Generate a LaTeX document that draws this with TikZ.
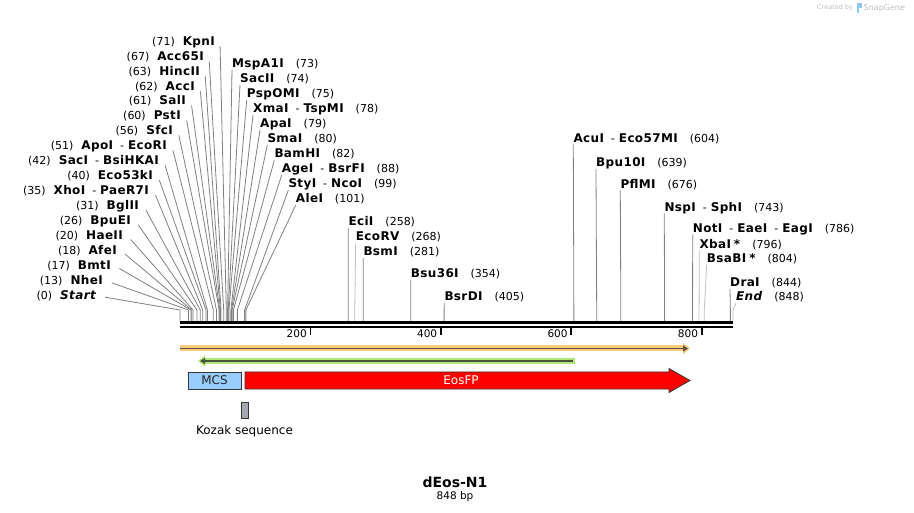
\documentclass[tikz,border=0pt]{standalone}
\usepackage{fontspec}
\setmainfont{DejaVu Sans}
\usetikzlibrary{arrows.meta,positioning,calc}

\definecolor{sitegray}{RGB}{128,128,128}
\definecolor{sitefaint}{RGB}{192,192,192}
\definecolor{orangehalo}{RGB}{250,202,125}
\definecolor{orangecore}{RGB}{95,80,65}
\definecolor{greenhalo}{RGB}{178,232,122}
\definecolor{greencore}{RGB}{70,85,60}
\definecolor{mcsblue}{RGB}{153,204,255}
\definecolor{eosred}{RGB}{255,0,0}
\definecolor{kozakgray}{RGB}{165,168,176}
\definecolor{featedge}{RGB}{55,55,55}
\definecolor{brandgray}{RGB}{190,190,190}
\definecolor{brandblue}{RGB}{140,200,240}

\newcommand{\enz}[1]{{\fontsize{12}{14}\selectfont\bfseries\addfontfeatures{LetterSpace=3}#1}}
\newcommand{\cutpos}[1]{{\fontsize{11}{13}\selectfont(#1)}}
\newcommand{\also}{{\fontsize{11}{13}\selectfont\hspace{7pt}-\hspace{4pt}}}

\begin{document}
\begin{tikzpicture}[x=1pt, y=-1pt,
  every node/.style={inner sep=0pt},
  sitelbl/.style={inner sep=0pt, text height=9pt, text depth=2pt},
  leftlbl/.style={sitelbl, anchor=base east, inner xsep=5pt},
  rightlbl/.style={sitelbl, anchor=base west},
  siteline/.style={line width=0.8pt},
  rulerline/.style={line width=2.7pt, line cap=butt},
  halo/.style={line width=6pt, line cap=butt},
  core/.style={line width=1.8pt, line cap=butt}]
  \useasboundingbox (0,0) rectangle (914,513);

  % sequence ruler
  \coordinate (seq0) at (180,322.3);
  \coordinate (seqN) at (733,322.3);
  \coordinate (rtop) at (180,321);
  \draw[rulerline] (seq0) -- (seqN);
  \draw[rulerline] ($(seq0)+(0,4.7)$) -- ($(seqN)+(0,4.7)$);
  \foreach \bp in {200,400,600,800}{
    \coordinate (k\bp) at ({180+0.6521*\bp},328.3);
    \draw[line width=1.8pt] (k\bp) -- ++(0,6.7);
    \node[anchor=base east, font=\fontsize{10.5}{12}\selectfont] (n\bp) at ($(k\bp)+(-3.5,9.2)$) {\bp};
  }

  % sites left of the fan
  \foreach \pos/\txt/\ly/\rx in {
      71/{\enz{KpnI}}/42/220,
      67/{\enz{Acc65I}}/57/209,
      63/{\enz{HincII}}/72/205,
      62/{\enz{AccI}}/87/200,
      61/{\enz{SalI}}/101/191,
      60/{\enz{PstI}}/116/186,
      56/{\enz{SfcI}}/131/178,
      51/{\enz{ApoI}\also\enz{EcoRI}}/146/172,
      42/{\enz{SacI}\also\enz{BsiHKAI}}/161/164,
      40/{\enz{Eco53kI}}/176/158,
      35/{\enz{XhoI}\also\enz{PaeR7I}}/191/154,
      31/{\enz{BglII}}/206/144,
      26/{\enz{BpuEI}}/221/136,
      20/{\enz{HaeII}}/236/128,
      18/{\enz{AfeI}}/251/122,
      17/{\enz{BmtI}}/266/116,
      13/{\enz{NheI}}/281/108,
      0/{\enz{\itshape Start}}/296/101}{
    \coordinate (t\pos) at ({180+0.6521*\pos},310);
    \node[leftlbl] (s\pos) at (\rx,\ly+4) {\cutpos{\pos}\hspace{8pt}\txt};
    \draw[siteline, draw=sitegray] ($(s\pos.east)!4pt!(t\pos)$) -- (t\pos) -- (t\pos |- rtop);
  }

  % sites right of the fan and further along
  \foreach \pos/\txt/\ly/\lx/\col in {
      73/{\enz{MspA1I}}/64/232/sitegray,
      74/{\enz{SacII}}/79/240/sitegray,
      75/{\enz{PspOMI}}/94/246.7/sitegray,
      78/{\enz{XmaI}\also\enz{TspMI}}/109/253/sitegray,
      79/{\enz{ApaI}}/124/260/sitegray,
      80/{\enz{SmaI}}/139/267.3/sitegray,
      82/{\enz{BamHI}}/154/274.3/sitegray,
      88/{\enz{AgeI}\also\enz{BsrFI}}/169/281.7/sitegray,
      99/{\enz{StyI}\also\enz{NcoI}}/184/288.3/sitegray,
      101/{\enz{AleI}}/199/295.7/sitegray,
      258/{\enz{EciI}}/221.7/348.3/sitegray,
      268/{\enz{EcoRV}}/236.7/355.7/sitefaint,
      281/{\enz{BsmI}}/251.7/363.3/sitegray,
      354/{\enz{Bsu36I}}/274/410.7/sitegray,
      405/{\enz{BsrDI}}/296.7/444.3/sitegray,
      604/{\enz{AcuI}\also\enz{Eco57MI}}/138.3/573.3/sitegray,
      639/{\enz{Bpu10I}}/162.7/596/sitegray,
      676/{\enz{PflMI}}/184.3/620.3/sitegray,
      743/{\enz{NspI}\also\enz{SphI}}/207.3/664.3/sitegray,
      786/{\enz{NotI}\also\enz{EaeI}\also\enz{EagI}}/228.3/692.7/sitegray,
      796/{\enz{XbaI\hspace{3pt}*}}/244.3/699.3/sitefaint,
      804/{\enz{BsaBI\hspace{3pt}*}}/258.3/706.7/sitefaint,
      844/{\enz{DraI}}/282.7/730/sitegray,
      848/{\enz{\itshape End}}/296.7/736/sitefaint}{
    \coordinate (t\pos) at ({180+0.6521*\pos},310);
    \node[rightlbl] (s\pos) at (\lx,\ly+4) {\txt\hspace{12pt}\cutpos{\pos}};
    \draw[siteline, draw=\col] (s\pos.south west) -- (t\pos) -- (t\pos |- rtop);
  }

  % primer-like feature arrows
  \coordinate (fwdL) at (180,348.5);
  \coordinate (fwdR) at (690,348.5);
  \draw[halo, draw=orangehalo, -{Triangle[length=7pt,width=11pt]}] (fwdL) -- (fwdR);
  \draw[core, draw=orangecore, -{Triangle[length=5pt,width=6pt]}] (fwdL) -- ($(fwdR)+(-2,0)$);
  \coordinate (revR) at (575,361);
  \coordinate (revL) at (198,361);
  \draw[halo, draw=greenhalo, -{Triangle[length=7pt,width=11pt]}] (revR) -- (revL);
  \draw[core, draw=greencore, -{Triangle[length=5pt,width=6pt]}] ($(revR)+(-2,0)$) -- ($(revL)+(2,0)$);

  % features
  \node[draw=featedge, fill=mcsblue, line width=0.8pt, minimum width=53pt, minimum height=17pt,
        font=\fontsize{12}{14}\selectfont, text=black!85] (mcs) at (214.5,380.5) {MCS};
  \filldraw[fill=eosred, draw=featedge, line width=0.8pt]
    (245,372) -- (669,372) -- (669,368.5) -- (690,380.5) -- (669,392.5) -- (669,389) -- (245,389) -- cycle;
  \node[text=white, font=\fontsize{12}{14}\selectfont] (eos) at (461,380.5) {EosFP};
  \node[draw=featedge, fill=kozakgray, line width=0.8pt, minimum width=7pt, minimum height=16pt] (kozak) at (244.5,410) {};
  \node[font=\fontsize{12}{14}\selectfont, below=7pt of kozak] (kozaklbl) {Kozak sequence};

  % map name
  \node[font=\fontsize{14}{16}\selectfont\bfseries] (mapname) at (455,482) {dEos-N1};
  \node[font=\fontsize{10.5}{12}\selectfont] (maplen) at (455,497) {848 bp};

  % credit
  \node[anchor=west, font=\fontsize{6.5}{8}\selectfont, text=brandgray] (made) at (817,8) {Created by};
  \fill[brandblue] (856.5,3.5) rectangle (859,13);
  \fill[brandblue] (859,3.5) rectangle (861.5,8);
  \node[anchor=west, font=\fontsize{8}{10}\selectfont, text=brandgray] (brand) at (863.5,8) {SnapGene};
\end{tikzpicture}
\end{document}
